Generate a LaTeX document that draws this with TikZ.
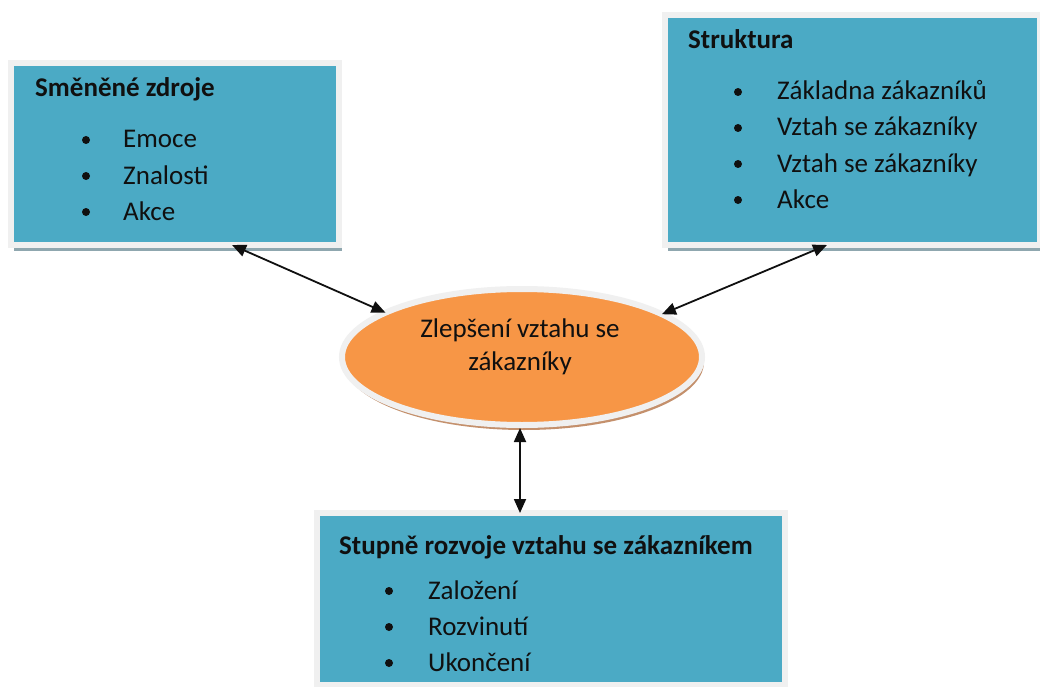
\documentclass[tikz,border=0pt]{standalone}
\usepackage{fontspec}
\setmainfont{Carlito}
\usetikzlibrary{arrows.meta,shadows,calc,shapes.geometric}
\definecolor{boxblue}{HTML}{4BAAC5}
\definecolor{framegray}{HTML}{F0F0F0}
\definecolor{oran}{HTML}{F79646}
\definecolor{bshadow}{HTML}{8FA7AF}
\definecolor{eshadow}{HTML}{C4906C}
\definecolor{ink}{HTML}{101010}
\begin{document}
\begin{tikzpicture}[x=1pt,y=-1pt,
  panel/.style={rectangle, fill=boxblue, draw=framegray, line width=6pt,
    inner sep=0pt, outer sep=0pt,
    drop shadow={shadow xshift=3pt, shadow yshift=-6pt, fill=bshadow, opacity=1}},
  oval/.style={ellipse, fill=oran, draw=framegray, line width=6pt,
    inner sep=0pt, outer sep=0pt,
    drop shadow={shadow xshift=2pt, shadow yshift=-5pt, fill=eshadow, opacity=1}},
  txt/.style={anchor=base west, inner sep=0pt, text=ink, font=\fontsize{27pt}{33pt}\selectfont},
  ctxt/.style={anchor=base, inner sep=0pt, text=ink, font=\fontsize{27pt}{33pt}\selectfont},
  ttl/.style={txt, font=\fontsize{27pt}{33pt}\selectfont\bfseries},
  bul/.style={circle, fill=ink, inner sep=0pt, minimum size=8pt},
  conn/.style={{Triangle[length=14pt,width=12pt]}-{Triangle[length=14pt,width=12pt]},
    line width=1.8pt, draw=ink}
]
\clip (0,0) rectangle (1040,687);
\fill[white] (0,0) rectangle (1040,687);

% boxes
\node[panel, minimum width=328pt, minimum height=182pt] (lb) at (175,154) {};
\node[panel, minimum width=375pt, minimum height=230pt] (rb) at (852.5,130) {};
\node[panel, minimum width=468.5pt, minimum height=172pt] (bb) at (550.75,599) {};

% ellipse
\node[oval, minimum width=360pt, minimum height=136pt] (ell) at (522,357) {};
\node[ctxt] (e1) at (520,337) {Zlepšení vztahu se};
\node[ctxt] (e2) at (520,370) {zákazníky};

% left box text
\node[ttl] (lt) at (35,97) {Směněné zdroje};
\node[bul] (lb1) at (86,140) {};
\node[bul] (lb2) at (86,176) {};
\node[bul] (lb3) at (86,212) {};
\node[txt] (li1) at (123,148) {Emoce};
\node[txt] (li2) at (123,184) {Znalosti};
\node[txt] (li3) at (123,220) {Akce};

% right box text
\node[ttl] (rt) at (688,49) {Struktura};
\node[bul] (rb1) at (738,92) {};
\node[bul] (rb2) at (738,128) {};
\node[bul] (rb3) at (738,164) {};
\node[bul] (rb4) at (738,200) {};
\node[txt] (ri1) at (777,100) {Základna zákazníků};
\node[txt] (ri2) at (777,136) {Vztah se zákazníky};
\node[txt] (ri3) at (777,172) {Vztah se zákazníky};
\node[txt] (ri4) at (777,208) {Akce};

% bottom box text
\node[ttl] (bt) at (339,554) {Stupně rozvoje vztahu se zákazníkem};
\node[bul] (bb1) at (389,591) {};
\node[bul] (bb2) at (389,627) {};
\node[bul] (bb3) at (389,663) {};
\node[txt] (bi1) at (428,599) {Založení};
\node[txt] (bi2) at (428,635) {Rozvinutí};
\node[txt] (bi3) at (428,671) {Ukončení};

% connectors
\coordinate (lbA) at ($(lb.south west)+(221,0)$);
\coordinate (rbA) at ($(rb.south west)+(162,0)$);
\coordinate (elA) at ($(ell.south)+(-2,3)$);
\coordinate (bbA) at ($(ell.south |- bb.north)+(-2,0)$);
\draw[conn] (lbA) -- (ell.162);
\draw[conn] (rbA) -- (ell.17);
\draw[conn] (elA) -- (bbA);
\end{tikzpicture}
\end{document}
